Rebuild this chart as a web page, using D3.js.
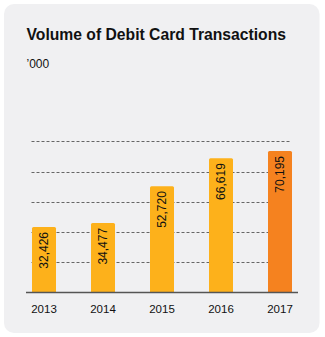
<!DOCTYPE html>
<html><head><meta charset="utf-8">
<script src="https://cdn.jsdelivr.net/npm/d3@7"></script>
<style>
html,body{margin:0;padding:0;background:#fff;}
svg{display:block;font-family:"Liberation Sans",Arial,sans-serif;}
</style></head>
<body>
<svg id="c" width="325" height="337"></svg>
<script>
const years = ["2013","2014","2015","2016","2017"];
const values = [32426, 34477, 52720, 66619, 70195];
const barColors = ["#FDB11B","#FDB11B","#FDB11B","#FDB11B","#F5821F"];
const gridTicks = [15000, 30000, 45000, 60000, 75000];
const title = "Volume of Debit Card Transactions";
const unitLabel = "\u2019000";

const svg = d3.select("#c");
svg.append("rect").attr("x",4).attr("y",4).attr("width",315.5).attr("height",329)
  .attr("rx",10).attr("fill","#f0f0f2");

svg.append("text").attr("x",26.5).attr("y",40).attr("font-size","15.7px")
  .attr("font-weight","bold").attr("fill","#111").text(title);
svg.append("text").attr("x",26.5).attr("y",68).attr("font-size","12px")
  .attr("fill","#111").text(unitLabel);

const x = d3.scaleBand().domain(years).range([32,292]).paddingInner(35/59).paddingOuter(0);
const y = d3.scaleLinear().domain([0,75000]).range([292.3,141.3]);

// gridlines
svg.append("g").selectAll("line").data(gridTicks).join("line")
  .attr("x1",31.5).attr("x2",291.5)
  .attr("y1",d=>Math.round(y(d))+0.5).attr("y2",d=>Math.round(y(d))+0.5)
  .attr("stroke","#666").attr("stroke-width",1).attr("stroke-dasharray","3,2");

// bars
svg.append("g").selectAll("path").data(values).join("path")
  .attr("d",(d,i)=>{
    const x0=x(years[i]), w=x.bandwidth(), y0=y(d), yb=y(0), r=1.5;
    return `M${x0},${yb}V${y0+r}Q${x0},${y0} ${x0+r},${y0}H${x0+w-r}Q${x0+w},${y0} ${x0+w},${y0+r}V${yb}Z`;
  })
  .attr("fill",(d,i)=>barColors[i]);

// value labels
svg.append("g").selectAll("text").data(values).join("text")
  .attr("transform",(d,i)=>`translate(${x(years[i])+x.bandwidth()/2+4.3},${y(d)+5}) rotate(-90)`)
  .attr("text-anchor","end").attr("font-size","12px").attr("fill","#111")
  .text(d=>d3.format(",")(d));

// axis
const axis = svg.append("g").attr("transform",`translate(0,${y(0)})`)
  .call(d3.axisBottom(x).tickSize(0).tickPadding(13));
axis.select(".domain").remove();
axis.selectAll("text").attr("font-size","11.5px").attr("fill","#111")
  .attr("font-family","'Liberation Sans',Arial,sans-serif");
svg.append("line").attr("x1",26).attr("x2",298).attr("y1",292.5).attr("y2",292.5)
  .attr("stroke","#555").attr("stroke-width",1.5);
</script>
</body></html>
